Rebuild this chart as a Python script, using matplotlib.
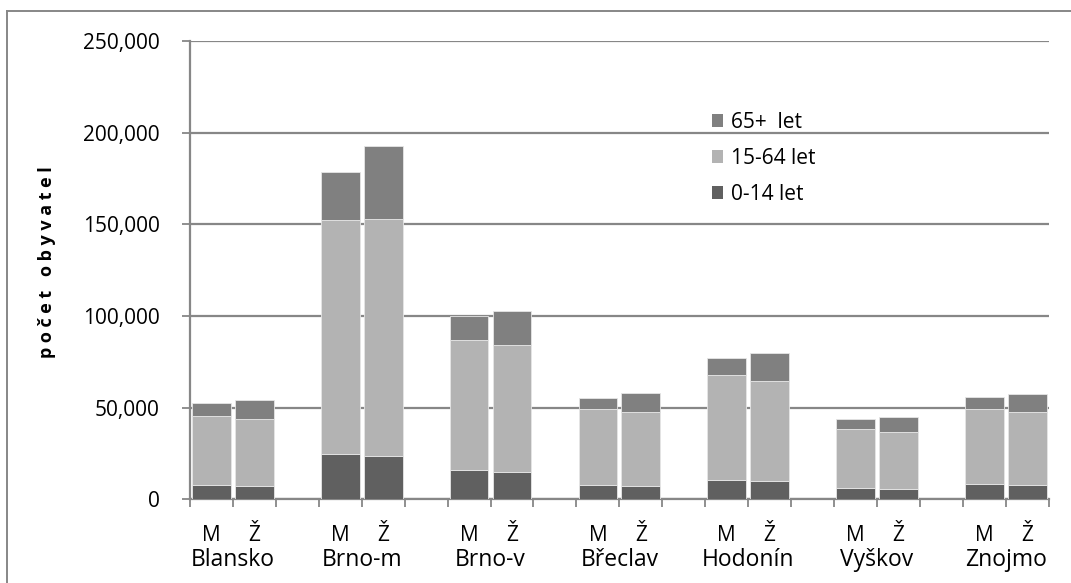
import matplotlib
matplotlib.use("Agg")
import matplotlib.pyplot as plt
from matplotlib.patches import Patch
from matplotlib.lines import Line2D
import numpy as np

# District populations by sex and age group
districts = ["Blansko", "Brno-m", "Brno-v", "Břeclav", "Hodonín", "Vyškov", "Znojmo"]
sexes = ["M", "Ž"]

# values ordered district by district, M then Ž
age_0_14 = [7600, 7250, 24700, 23600, 16000, 14900, 7800, 7300,
            10500, 10000, 6200, 5800, 8300, 7600]
age_15_64 = [38000, 36700, 127700, 129300, 71100, 69300, 41300, 40500,
             57100, 54500, 32200, 30900, 41100, 40000]
age_65 = [6800, 10200, 26000, 40000, 13000, 18700, 6300, 10200,
          9300, 15300, 5300, 8200, 6200, 9800]

series_labels = ["0-14 let", "15-64 let", "65+  let"]
colors = ["#606060", "#b3b3b3", "#808080"]
grid_c = "#878787"

W, H = 1071, 583
fig = plt.figure(figsize=(W / 100, H / 100), dpi=100)
font = "Open Sans"
plt.rcParams["font.family"] = [font, "DejaVu Sans"]

x0, x1 = 190, 1048.7
y_top, y_bot = 41.05, 499.3
ax = fig.add_axes([x0 / W, 1 - y_bot / H, (x1 - x0) / W, (y_bot - y_top) / H])

# slot positions: M, Ž, gap per district (no gap after the last one)
pos = []
for i in range(len(districts)):
    pos += [3 * i, 3 * i + 1]
pos = np.array(pos)

a = np.array(age_0_14)
b = np.array(age_15_64)
c = np.array(age_65)
ax.bar(pos, a, width=0.9, color=colors[0], edgecolor="#e6e6e6", linewidth=0.6, zorder=3)
ax.bar(pos, b, width=0.9, bottom=a, color=colors[1], edgecolor="#e6e6e6", linewidth=0.6, zorder=3)
ax.bar(pos, c, width=0.9, bottom=a + b, color=colors[2], edgecolor="#e6e6e6", linewidth=0.6, zorder=3)

nslots = 3 * len(districts) - 1
ax.set_xlim(-0.5, nslots - 0.5)
ax.set_ylim(0, 250000)
ax.set_yticks(np.arange(0, 250001, 50000))
ax.set_yticklabels([f"{v:,}" for v in range(0, 250001, 50000)], fontsize=15)
ax.yaxis.grid(True, color=grid_c, linewidth=1.6, zorder=0)
ax.set_xticks(np.arange(-0.5, nslots, 1.0))
ax.set_xticklabels([])
ax.tick_params(axis="y", length=6, width=1.3, color=grid_c, pad=16, labelcolor="black")
ax.tick_params(axis="x", length=6, width=1.3, color=grid_c)
for s in ["top", "right"]:
    ax.spines[s].set_visible(False)
for s in ["left", "bottom"]:
    ax.spines[s].set_color(grid_c)
    ax.spines[s].set_linewidth(1.6)

# category labels
for i, d in enumerate(districts):
    for j, s in enumerate(sexes):
        ax.text(3 * i + j, -0.08, s, transform=ax.get_xaxis_transform(),
                ha="center", va="center", fontsize=15)
    ax.text(3 * i + 0.5, -0.132, d, transform=ax.get_xaxis_transform(),
            ha="center", va="center", fontsize=16.5)

fig.text(47 / W, 1 - 262 / H, "p o č e t   o b y v a t e l", rotation=90,
         ha="center", va="center", fontsize=13, fontweight="bold")

handles = [Patch(facecolor=colors[k]) for k in (2, 1, 0)]
labels = [series_labels[k] for k in (2, 1, 0)]
fig.legend(handles, labels, loc="upper left", bbox_to_anchor=(712 / W, 1 - 112 / H),
           frameon=False, fontsize=15, handlelength=0.55, handleheight=0.55,
           handletextpad=0.35, labelspacing=0.72, borderaxespad=0, borderpad=0)

# outer chart frame
fig.add_artist(Line2D([7 / W, 1], [1 - 11 / H, 1 - 11 / H], transform=fig.transFigure,
                      color=grid_c, linewidth=1.4))
fig.add_artist(Line2D([7 / W, 7 / W], [0, 1 - 11 / H], transform=fig.transFigure,
                      color=grid_c, linewidth=1.4))

fig.savefig("out.png", dpi=100)
